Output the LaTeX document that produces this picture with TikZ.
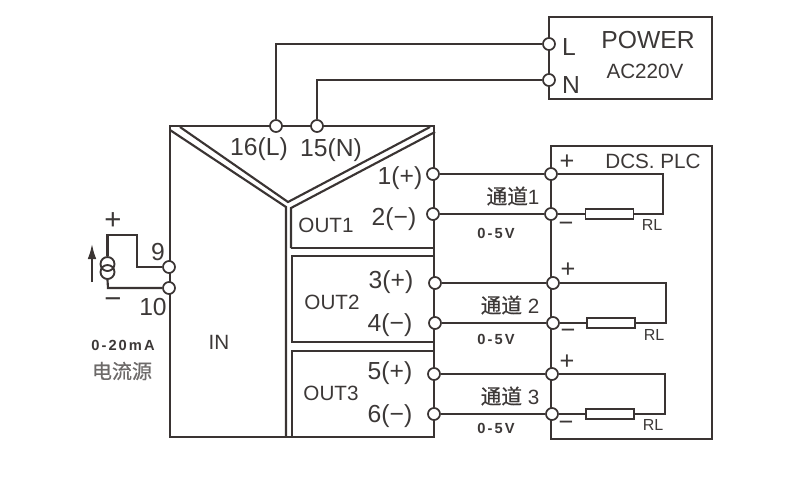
\documentclass[tikz,border=0pt]{standalone}
\usepackage{fontspec}
\usetikzlibrary{arrows.meta}
\setmainfont{Liberation Sans}
\newfontfamily\cjk[FakeBold=0.6]{Noto Sans CJK SC}
\newfontfamily\spaced[LetterSpace=14]{Liberation Sans}
\definecolor{wire}{HTML}{3A3433}
\definecolor{ink}{HTML}{3C3837}
\tikzset{
  ln/.style={draw=wire,line width=1.6pt,line join=miter},
  term/.style={circle,draw=wire,fill=white,line width=1.3pt,minimum size=9pt,inner sep=0pt},
  txt/.style={text=ink,inner sep=0pt,font=\fontsize{18.5}{20}\selectfont},
  lab/.style={text=ink,inner sep=0pt,font=\fontsize{15.5}{17}\selectfont},
  sml/.style={text=ink,inner sep=0pt,font=\fontsize{12}{14}\selectfont},
  volt/.style={text=ink,inner sep=0pt,font=\fontsize{11}{13}\selectfont\spaced\bfseries},
  chan/.style={text=ink,inner sep=0pt,font=\fontsize{15.5}{17}\selectfont},
  pm/.style={text=ink,inner sep=0pt,font=\fontsize{19}{21}\selectfont},
  res/.style={rectangle,draw=wire,fill=white,line width=1.4pt,minimum width=36pt,minimum height=7.5pt,inner sep=0pt},
  src/.style={circle,draw=wire,line width=1.4pt,minimum size=10.5pt,inner sep=0pt},
}
\begin{document}
\begin{tikzpicture}[x=0.75pt,y=-0.75pt]
\useasboundingbox (0,0) rectangle (800,476);
% module housing
\draw[ln] (170,437) -- (170,126) -- (434,126) -- (434,437) -- cycle;
\draw[ln] (170,130) -- (286,207) -- (286,437);
\draw[ln] (180,127) -- (288,202) -- (430,127);
\draw[ln] (291,248) -- (291,208) -- (435,132);
\draw[ln] (291,248) -- (434,248);
\draw[ln] (434,256) -- (292,256) -- (292,342) -- (434,342);
\draw[ln] (434,351) -- (292,351) -- (292,437);
% power and DCS boxes
\draw[ln] (549,17) rectangle (712,99);
\draw[ln] (551,146) rectangle (712,439);
% terminals
\node[term] (t16) at (276,126) {};
\node[term] (t15) at (317,126) {};
\node[term] (pL) at (549,44) {};
\node[term] (pN) at (549,80) {};
\node[term] (o1) at (433,174) {};
\node[term] (o2) at (433,214) {};
\node[term] (o3) at (435,283) {};
\node[term] (o4) at (435,323) {};
\node[term] (o5) at (434,374) {};
\node[term] (o6) at (434,414) {};
\node[term] (d1) at (551,174) {};
\node[term] (d2) at (551,214) {};
\node[term] (d3) at (553,283) {};
\node[term] (d4) at (553,323) {};
\node[term] (d5) at (552,374) {};
\node[term] (d6) at (552,414) {};
\node[term] (i9) at (169,267) {};
\node[term] (i10) at (169,288) {};
% power wires
\coordinate (c16) at (276,44);
\coordinate (c15) at (317,80);
\draw[ln] (t16) -- (c16) -- (pL);
\draw[ln] (t15) -- (c15) -- (pN);
% channel wires
\draw[ln] (o1) -- (d1);
\draw[ln] (o2) -- (d2);
\draw[ln] (o3) -- (d3);
\draw[ln] (o4) -- (d4);
\draw[ln] (o5) -- (d5);
\draw[ln] (o6) -- (d6);
% loads
\node[res] (r1) at (609.5,214) {};
\node[res] (r2) at (611,323) {};
\node[res] (r3) at (610,414) {};
\coordinate (k1a) at (663,174);
\coordinate (k1b) at (663,214);
\coordinate (k2a) at (666,283);
\coordinate (k2b) at (666,323);
\coordinate (k3a) at (665,374);
\coordinate (k3b) at (665,414);
\draw[ln] (d1) -- (k1a) -- (k1b) -- (r1);
\draw[ln] (d2) -- (r1);
\draw[ln] (d3) -- (k2a) -- (k2b) -- (r2);
\draw[ln] (d4) -- (r2);
\draw[ln] (d5) -- (k3a) -- (k3b) -- (r3);
\draw[ln] (d6) -- (r3);
% current source
\node[src] (s1) at (107.5,264) {};
\node[src] (s2) at (107.5,272) {};
\coordinate (sa) at (107.5,235);
\coordinate (sb) at (137,235);
\coordinate (sc) at (137,267);
\coordinate (sd) at (108,288);
\draw[ln] (s1.north) -- (sa) -- (sb) -- (sc) -- (i9);
\draw[ln] (s2.south) -- (sd) -- (i10);
\coordinate (a1) at (92,282);
\coordinate (a2) at (92,243);
\draw[draw=wire,line width=2pt,-{Latex[length=12pt,width=6.5pt]}] (a1) -- (a2);
% text
\node[txt] (tL) at (569,47) {L};
\node[txt] (tN) at (571,85) {N};
\node[txt] (tP) at (648,40) {POWER};
\node[lab] (tA) at (645,71) {AC220V};
\node[txt] (l16) at (259,149) {16(L)};
\node[txt] (l15) at (331,150) {15(N)};
\node[txt] (l1) at (400,178) {1(+)};
\node[txt] (l2) at (394,219) {2(−)};
\node[txt] (l3) at (391,282) {3(+)};
\node[txt] (l4) at (390,325) {4(−)};
\node[txt] (l5) at (390,373) {5(+)};
\node[txt] (l6) at (390,416) {6(−)};
\node[lab] (ou1) at (326,225) {OUT1};
\node[lab] (ou2) at (332,302) {OUT2};
\node[lab] (ou3) at (331,393) {OUT3};
\node[lab] (in) at (219,342) {IN};
\node[lab] (dcs) at (653,161) {DCS. PLC};
\node[chan] (ch1) at (513,196) {{\cjk 通道}1};
\node[chan] (ch2) at (510,305) {{\cjk 通道} 2};
\node[chan] (ch3) at (510,396) {{\cjk 通道} 3};
\node[volt] (v1) at (496,233) {0-5V};
\node[volt] (v2) at (496,339) {0-5V};
\node[volt] (v3) at (496,428) {0-5V};
\node[sml] (rl1) at (652,225) {RL};
\node[sml] (rl2) at (654,335) {RL};
\node[sml] (rl3) at (653,425) {RL};
\node[pm] (p1) at (567,162) {+};
\node[pm] (m1) at (566,227) {−};
\node[pm] (p2) at (568,270) {+};
\node[pm] (m2) at (568,334) {−};
\node[pm] (p3) at (567,362) {+};
\node[pm] (m3) at (566,426) {−};
\node[pm,font=\fontsize{22}{24}\selectfont] (sp) at (113,221) {+};
\node[pm,font=\fontsize{22}{24}\selectfont] (sm) at (113,303) {−};
\node[txt] (n9) at (158,252) {9};
\node[txt] (n10) at (153,307) {10};
\node[volt] (ma) at (123,345) {0-20mA};
\node[text=ink!75,inner sep=0pt,font=\fontsize{15}{17}\selectfont\cjk] (cy) at (122,371) {电流源};
\end{tikzpicture}
\end{document}
